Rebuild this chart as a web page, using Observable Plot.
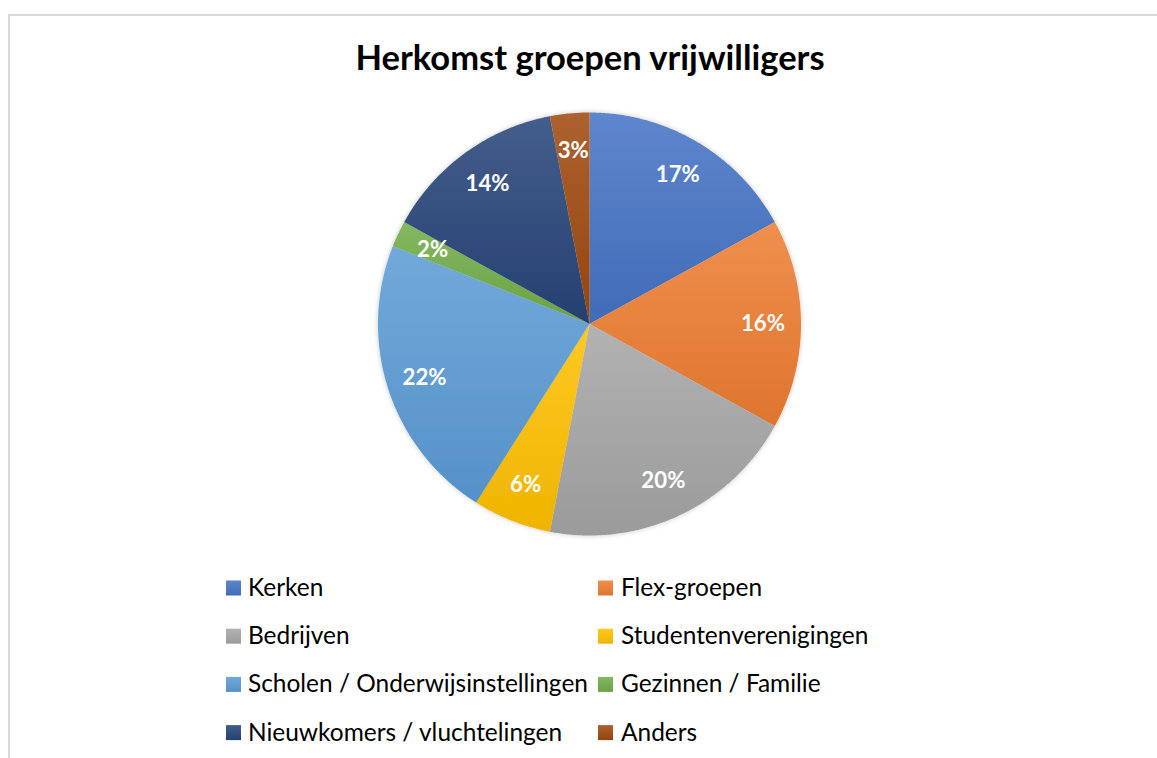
<!DOCTYPE html>
<html>
<head>
<meta charset="utf-8">
<script src="https://cdn.jsdelivr.net/npm/d3@7"></script>
<script src="https://cdn.jsdelivr.net/npm/@observablehq/plot@0.6"></script>
<style>
  html, body { margin: 0; padding: 0; background: #fff; }
  #chart { width: 1157px; height: 758px; overflow: hidden; }
  #chart svg { display: block; }
</style>
</head>
<body>
<div id="chart"></div>
<script>
// ---- data ----
const title = "Herkomst groepen vrijwilligers";
const categories = [
  "Kerken",
  "Flex-groepen",
  "Bedrijven",
  "Studentenverenigingen",
  "Scholen / Onderwijsinstellingen",
  "Gezinnen / Familie",
  "Nieuwkomers / vluchtelingen",
  "Anders"
];
const percentages = [17, 16, 20, 6, 22, 2, 14, 3];
const colors = ["#4472C4", "#ED7D31", "#A5A5A5", "#FFC000", "#5B9BD5", "#70AD47", "#264478", "#9E480E"];

// ---- layout ----
const W = 1157, H = 758;
const cx = 589, cy = 323.5, R = 211.5;
const FONT = "Lato, 'Open Sans', sans-serif";

const ctx = document.createElement("canvas").getContext("2d");
function fit(text, weight, target) {
  ctx.font = `${weight} 100px Lato`;
  return 100 * target / ctx.measureText(text).width;
}
const titleSize = fit(title, "bold", 470);
const legendSize = fit("Scholen / Onderwijsinstellingen", "normal", 340);
const labelSize = fit("17%", "bold", 44);

// ---- pie geometry from data ----
const arcs = d3.pie().sort(null).startAngle(0).endAngle(2 * Math.PI)(percentages);
const points = [];
arcs.forEach((a, i) => {
  points.push({cat: categories[i], i, x: 0, y: 0});
  const n = Math.max(4, Math.ceil((a.endAngle - a.startAngle) / (Math.PI / 360)));
  for (let k = 0; k <= n; k++) {
    const t = a.startAngle + (a.endAngle - a.startAngle) * k / n;
    points.push({cat: categories[i], i, x: Math.sin(t), y: Math.cos(t)});
  }
});
const labels = arcs.map((a, i) => {
  const m = (a.startAngle + a.endAngle) / 2;
  return {text: percentages[i] + "%", x: 0.82 * Math.sin(m), y: 0.82 * Math.cos(m)};
});

const chart = Plot.plot({
  width: W, height: H, margin: 0,
  x: {domain: [-1, 1], range: [cx - R, cx + R], axis: null},
  y: {domain: [-1, 1], range: [cy + R, cy - R], axis: null},
  color: {type: "identity"},
  style: {background: "transparent", fontFamily: FONT, overflow: "visible"},
  marks: [
    Plot.line(points, {x: "x", y: "y", z: "cat", fill: d => `url(#grad${d.i})`, stroke: "none", curve: "linear"}),
    Plot.text(labels, {x: "x", y: "y", text: "text", fill: "white", fontWeight: "bold", fontSize: labelSize, fontFamily: FONT})
  ]
});

const svg = d3.select(chart);
const defs = svg.insert("defs", ":first-child");
colors.forEach((c, i) => {
  const g = defs.append("linearGradient").attr("id", `grad${i}`)
    .attr("x1", 0).attr("y1", 0).attr("x2", 0).attr("y2", 1);
  g.append("stop").attr("offset", "0%").attr("stop-color", d3.interpolateRgb(c, "#fff")(0.14));
  g.append("stop").attr("offset", "100%").attr("stop-color", d3.rgb(c).darker(0.18).formatHex());
});
const f = defs.append("filter").attr("id", "shadow").attr("x", "-10%").attr("y", "-10%").attr("width", "120%").attr("height", "120%");
f.append("feDropShadow").attr("dx", 0).attr("dy", 0).attr("stdDeviation", 2.5).attr("flood-color", "#000").attr("flood-opacity", 0.22);
svg.select("g[aria-label='line']").attr("filter", "url(#shadow)");

// frame
svg.insert("path", "defs + *").attr("d", `M9,${H + 5}V15H${W + 5}`).attr("fill", "none").attr("stroke", "#d9d9d9").attr("stroke-width", 2);

// title
svg.append("text").attr("x", 590).attr("y", 70).attr("text-anchor", "middle")
  .attr("font-family", FONT).attr("font-weight", "bold").attr("font-size", titleSize).attr("fill", "#000").text(title);

// legend
const leg = svg.append("g").attr("font-family", FONT).attr("font-size", legendSize).attr("text-anchor", "start");
categories.forEach((name, i) => {
  const col = i % 2, row = Math.floor(i / 2);
  const yc = 588 + row * 48.2;
  const sx = [226, 598][col], tx = [248, 621][col];
  leg.append("rect").attr("x", sx).attr("y", yc - 7.5).attr("width", 15).attr("height", 15).attr("fill", `url(#grad${i})`);
  leg.append("text").attr("x", tx).attr("y", yc + 8).attr("text-anchor", "start").attr("fill", "#000").text(name);
});

document.getElementById("chart").appendChild(chart);
</script>
</body>
</html>
